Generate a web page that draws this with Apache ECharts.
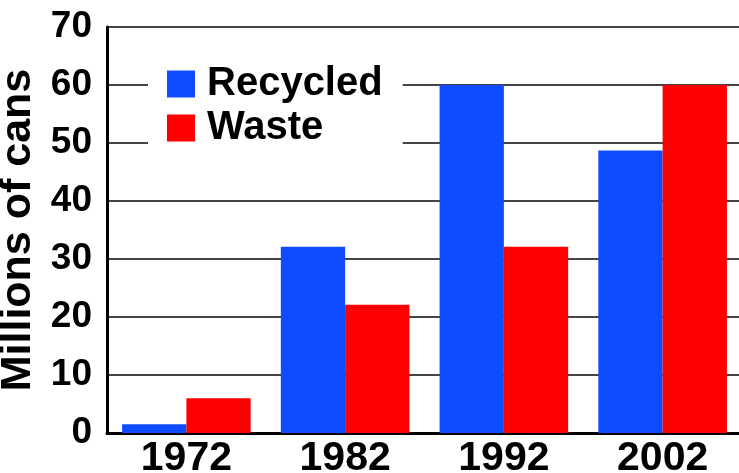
<!DOCTYPE html>
<html>
<head>
<meta charset="utf-8">
<script src="https://cdn.jsdelivr.net/npm/echarts@6/dist/echarts.min.js"></script>
<style>
  html, body { margin: 0; padding: 0; background: #fff; }
  #main { width: 739px; height: 473px; }
</style>
</head>
<body>
<div id="main"></div>
<script>
// data
const years = ['1972', '1982', '1992', '2002']
const recycled = [1.5, 32.1, 60, 48.7]
const waste = [6, 22.1, 32.1, 60]
const seriesNames = ['Recycled', 'Waste']

const FONT = '"Liberation Sans", Arial, sans-serif'

const myChart = echarts.init(document.getElementById('main'))
const option = {
  animation: false,
  backgroundColor: '#fff',
  grid: {
    left: 107,
    top: 27,
    bottom: 40,
    right: -3,
    outerBoundsMode: 'none'
  },
  legend: {
    data: seriesNames,
    orient: 'vertical',
    left: 148,
    top: 51,
    icon: 'rect',
    itemWidth: 28,
    itemHeight: 27,
    itemGap: 4,
    backgroundColor: '#fff',
    padding: [13, 20, 14, 19],
    textStyle: {
      fontFamily: FONT,
      fontWeight: 'bold',
      fontSize: 40,
      lineHeight: 38,
      color: '#000',
      padding: [0, 0, 0, 7]
    }
  },
  xAxis: {
    type: 'category',
    data: years,
    axisLine: { lineStyle: { color: '#000', width: 3 } },
    axisTick: { show: false },
    axisLabel: {
      color: '#000',
      fontFamily: FONT,
      fontWeight: 'bold',
      fontSize: 41,
      margin: 5
    }
  },
  yAxis: {
    type: 'value',
    min: 0,
    max: 70,
    interval: 10,
    name: 'Millions of cans',
    nameLocation: 'middle',
    nameRotate: 90,
    nameGap: 49,
    nameTextStyle: {
      color: '#000',
      fontFamily: FONT,
      fontWeight: 'bold',
      fontSize: 43
    },
    axisLine: { show: true, lineStyle: { color: '#000', width: 3 } },
    axisTick: { show: false },
    axisLabel: {
      color: '#000',
      fontFamily: FONT,
      fontWeight: 'bold',
      fontSize: 37,
      margin: 15
    },
    splitLine: { lineStyle: { color: '#444', width: 2 } }
  },
  series: [
    {
      name: seriesNames[0],
      type: 'bar',
      data: recycled,
      barGap: '0%',
      barCategoryGap: '19%',
      itemStyle: { color: '#0f4cff' }
    },
    {
      name: seriesNames[1],
      type: 'bar',
      data: waste,
      itemStyle: { color: '#ff0000' }
    }
  ]
}

myChart.setOption(option)
</script>
</body>
</html>
